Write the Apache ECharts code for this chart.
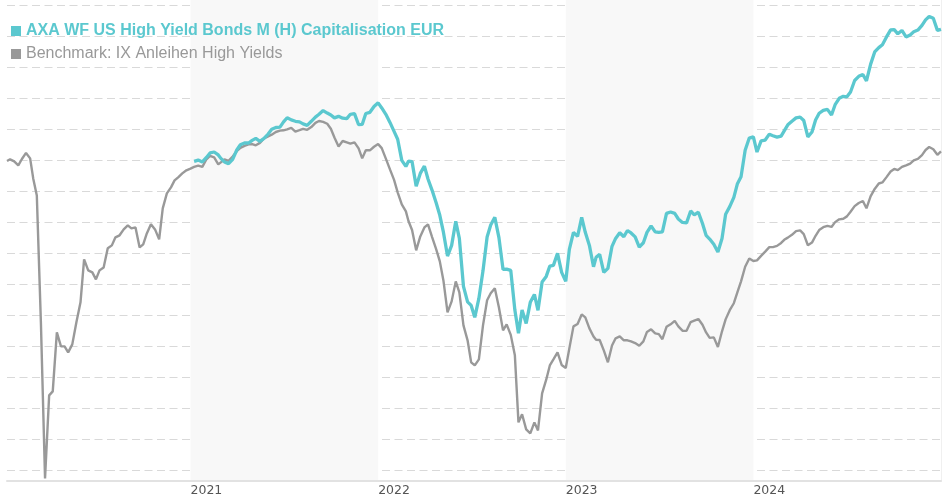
<!DOCTYPE html>
<html>
<head>
<meta charset="utf-8">
<script src="https://cdn.jsdelivr.net/npm/echarts@6/dist/echarts.min.js"></script>
<style>
  html, body { margin: 0; padding: 0; background: #fff; }
  #chart { width: 943px; height: 500px; }
</style>
</head>
<body>
<div id="chart"></div>
<script>
  // names
  var fundName = 'AXA WF US High Yield Bonds M (H) Capitalisation EUR'
  var benchName = 'Benchmark: IX Anleihen High Yields'

  // sampling dates: first days of the series, then 1st/8th/16th/24th of each month
  var firstDates = ['2020-01-10', '2020-01-16', '2020-01-24']
  var sampleDays = ['01', '08', '16', '24']
  var lastDate = '2024-12-31'
  var fundStart = '2021-01-08'

  // benchmark (grey), indexed values
  var bench2020 = [99.94, 100.05, 99.92,
    99.66, 100.07, 100.46, 100.11,
    98.82, 97.72, 89.47, 79.48,
    84.83, 85.09, 88.89, 87.99,
    87.99, 87.60, 88.12, 89.54,
    90.83, 93.60, 92.89, 92.76,
    92.31, 92.89, 93.08, 94.31,
    94.50, 95.02, 95.15, 95.53,
    95.79, 95.60, 95.66, 94.37,
    94.57, 95.27, 95.86, 95.53,
    94.89, 96.89, 97.85, 98.24,
    98.69, 98.89, 99.14, 99.34]
  var bench2021 = [99.45, 99.56, 99.64, 99.56,
    100.05, 100.27, 100.17, 99.72,
    99.85, 100.05, 99.95, 100.23,
    100.57, 100.79, 100.92, 101.01,
    101.03, 100.95, 101.11, 101.39,
    101.53, 101.64, 101.81, 101.90,
    101.92, 101.98, 102.08, 101.84,
    101.93, 102.01, 101.95, 102.13,
    102.40, 102.52, 102.46, 102.34,
    102.02, 101.46, 100.88, 101.23,
    101.14, 101.06, 101.14, 100.75,
    100.11, 100.63, 100.63, 100.86]
  var bench2022 = [101.03, 100.77, 100.09, 99.40,
    98.72, 97.92, 97.14, 96.69,
    96.07, 95.49, 94.18, 95.08,
    95.66, 95.86, 95.04, 94.24,
    93.47, 92.24, 90.18, 90.89,
    92.18, 91.47, 89.34, 88.38,
    86.96, 86.76, 87.15, 89.34,
    90.96, 91.41, 91.73, 90.50,
    89.02, 89.41, 88.73, 87.41,
    83.09, 83.61, 82.64, 82.38,
    83.09, 82.57, 84.96, 85.84,
    86.76, 87.15, 87.60, 86.79]
  var bench2023 = [86.60, 87.86, 89.28, 89.43,
    90.05, 89.86, 89.15, 88.63,
    88.42, 88.40, 87.73, 86.96,
    88.05, 88.51, 88.63, 88.38,
    88.38, 88.31, 88.20, 88.03,
    88.31, 88.92, 89.09, 88.83,
    88.78, 88.45, 89.25, 89.41,
    89.63, 89.28, 89.00, 88.99,
    89.56, 89.65, 89.75, 89.38,
    88.89, 88.54, 88.57, 87.95,
    88.96, 89.73, 90.32, 90.77,
    91.48, 92.18, 93.12, 93.66]
  var bench2024 = [93.49, 93.53, 93.82, 94.10,
    94.39, 94.39, 94.47, 94.66,
    94.86, 95.00, 95.18, 95.42,
    95.47, 95.23, 94.51, 94.68,
    95.12, 95.49, 95.67, 95.76,
    95.69, 96.00, 96.18, 96.22,
    96.37, 96.67, 97.03, 97.23,
    97.36, 96.89, 97.66, 98.14,
    98.49, 98.56, 98.90, 99.26,
    99.43, 99.35, 99.56, 99.66,
    99.77, 99.98, 100.08, 100.32,
    100.65, 100.84, 100.70, 100.34, 100.56]

  // fund (teal), starts 2021-01-08
  var fund2021 = [99.92, 100.00, 99.88,
    100.17, 100.46, 100.52, 100.33,
    100.11, 99.88, 99.77, 100.05,
    100.65, 100.99, 101.10, 101.10,
    101.27, 101.40, 101.21, 101.40,
    101.68, 101.99, 102.10, 102.12,
    102.46, 102.73, 102.59, 102.50,
    102.46, 102.33, 102.24, 102.50,
    102.77, 102.95, 103.19, 103.03,
    102.91, 102.72, 102.82, 102.70,
    102.67, 102.95, 102.99, 102.28,
    102.30, 103.00, 103.08, 103.45]
  var fund2022 = [103.69, 103.36, 102.95, 102.43,
    101.85, 101.34, 99.98, 99.59,
    99.93, 99.90, 98.31, 99.14,
    99.61, 98.78, 98.05, 97.23,
    96.44, 95.35, 93.81, 94.50,
    96.05, 94.95, 91.86, 90.86,
    90.63, 89.86, 91.08, 92.86,
    95.04, 95.81, 96.31, 95.00,
    92.95, 92.97, 92.89, 90.33,
    88.83, 90.34, 89.47, 90.83,
    91.34, 90.31, 92.14, 92.50,
    93.17, 93.21, 93.99, 92.76]
  var fund2023 = [92.18, 94.24, 95.34, 95.08,
    96.31, 95.34, 94.50, 93.12,
    93.73, 93.92, 92.76, 93.02,
    94.44, 94.95, 95.31, 95.06,
    95.46, 95.30, 95.05, 94.39,
    94.67, 95.34, 95.75, 95.37,
    95.34, 95.37, 96.56, 96.65,
    96.56, 96.20, 95.98, 95.95,
    96.72, 96.47, 96.64, 95.91,
    95.15, 94.91, 94.57, 94.07,
    94.95, 96.51, 97.00, 97.60,
    98.48, 98.93, 100.63, 101.42]
  var fund2024 = [101.50, 100.52, 101.24, 101.29,
    101.67, 101.57, 101.48, 101.54,
    101.88, 102.27, 102.50, 102.72,
    102.77, 102.55, 101.50, 101.81,
    102.58, 103.02, 103.21, 103.27,
    102.91, 103.57, 103.98, 104.11,
    104.08, 104.39, 105.13, 105.40,
    105.52, 105.11, 106.17, 106.97,
    107.25, 107.44, 107.94, 108.39,
    108.41, 108.14, 108.36, 107.94,
    108.07, 108.27, 108.38, 108.68,
    109.04, 109.26, 109.14, 108.36, 108.43]

  // axis range
  var xMin = '2020-01-10'
  var xMax = '2024-12-31'
  var yMin = 79.31
  var yMax = 110.32

  function buildDates () {
    var out = firstDates.slice()
    for (var y = 2020; y <= 2024; y++) {
      for (var m = (y === 2020 ? 2 : 1); m <= 12; m++) {
        var mm = m < 10 ? '0' + m : '' + m
        sampleDays.forEach(function (d) { out.push(y + '-' + mm + '-' + d) })
      }
    }
    out.push(lastDate)
    return out
  }

  var dates = buildDates()
  var benchValues = bench2020.concat(bench2021, bench2022, bench2023, bench2024)
  var fundValues = fund2021.concat(fund2022, fund2023, fund2024)
  var fundDates = dates.slice(dates.indexOf(fundStart))

  var benchData = dates.map(function (d, i) { return [d, benchValues[i]] })
  var fundData = fundDates.map(function (d, i) { return [d, fundValues[i]] })

  var myChart = echarts.init(document.getElementById('chart'))
  myChart.setOption({
    animation: false,
    grid: {
      left: 7,
      right: 2,
      top: 0,
      bottom: 19,
      containLabel: false
    },
    legend: {
      orient: 'vertical',
      left: 11,
      top: 23,
      padding: 0,
      itemWidth: 10,
      itemHeight: 10,
      itemGap: 7,
      icon: 'rect',
      selectedMode: false,
      data: [
        {
          name: fundName,
          textStyle: {color: '#5bc8cf', fontWeight: 'bold', fontSize: 16, fontFamily: 'Liberation Sans'}
        },
        {
          name: benchName,
          textStyle: {color: '#999999', fontSize: 16, fontFamily: 'Liberation Sans'}
        }
      ]
    },
    xAxis: {
      type: 'time',
      min: xMin,
      max: xMax,
      splitNumber: 5,
      axisLine: {
        lineStyle: {color: '#e2e2e2', width: 2}
      },
      axisTick: {
        show: false
      },
      axisLabel: {
        align: 'left',
        margin: 3,
        color: '#555',
        fontSize: 12.5,
        fontFamily: 'DejaVu Sans',
        formatter: function (value) {
          var d = new Date(value)
          return (d.getMonth() === 0 && d.getDate() === 1) ? String(d.getFullYear()) : ''
        }
      },
      splitLine: {
        show: false
      },
      splitArea: {
        show: true,
        areaStyle: {color: ['rgba(255,255,255,0)', '#f8f8f8']}
      }
    },
    yAxis: {
      type: 'value',
      position: 'right',
      min: yMin,
      max: yMax,
      splitNumber: 15,
      minInterval: 2,
      maxInterval: 2,
      axisLine: {
        show: true,
        lineStyle: {color: '#f0f0f0', width: 1}
      },
      axisTick: {
        show: false
      },
      axisLabel: {
        show: false
      },
      splitLine: {
        show: true,
        showMinLine: false,
        showMaxLine: false,
        lineStyle: {color: '#d9d9d9', width: 1.2, type: [8, 4.5]}
      }
    },
    series: [
      {
        name: benchName,
        type: 'line',
        data: benchData,
        showSymbol: false,
        color: '#999999',
        lineStyle: {width: 2.4}
      },
      {
        name: fundName,
        type: 'line',
        data: fundData,
        showSymbol: false,
        color: '#5bc8cf',
        lineStyle: {width: 3.3}
      }
    ]
  })
</script>
</body>
</html>
